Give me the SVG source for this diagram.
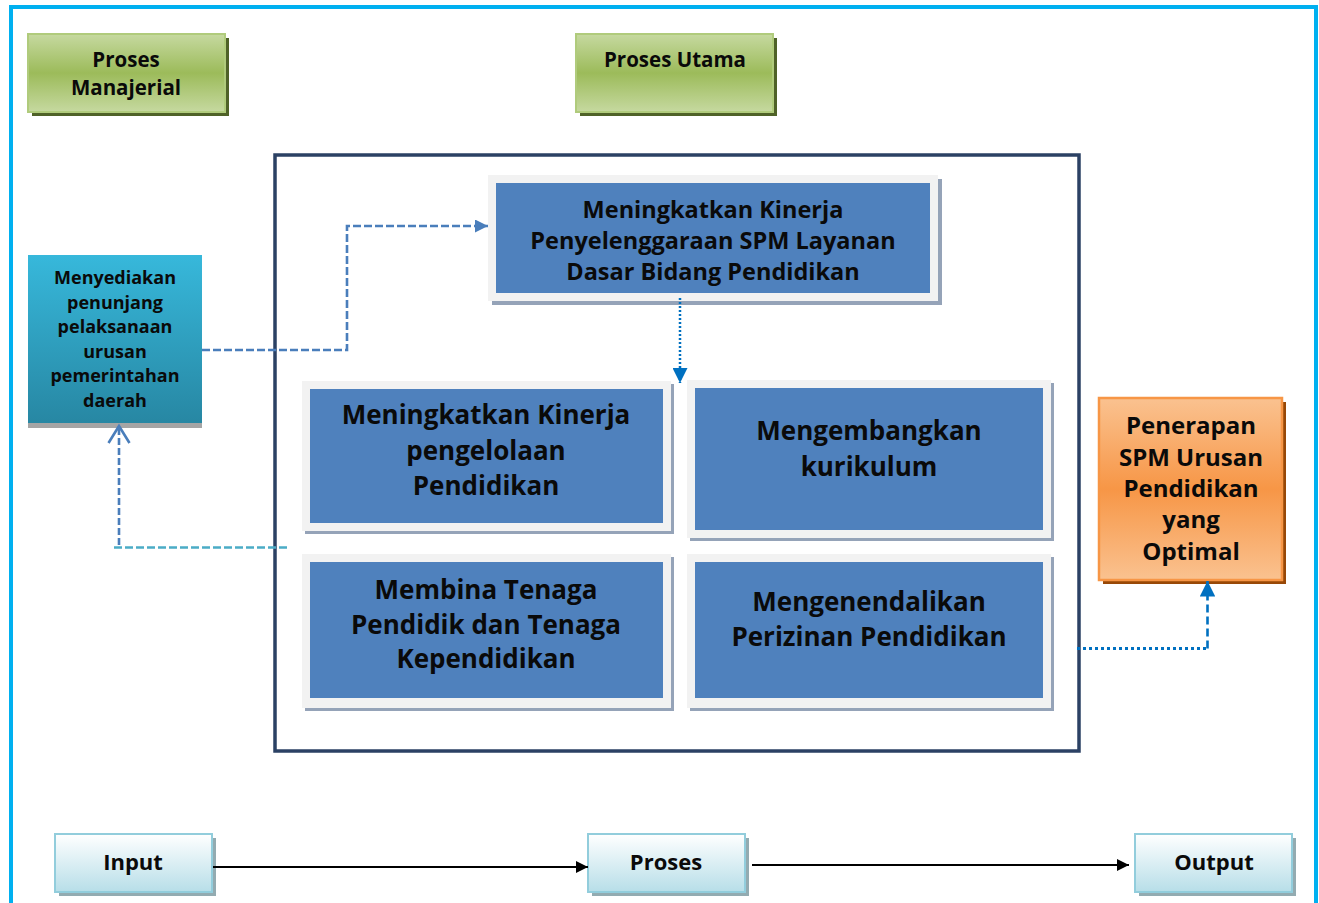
<svg xmlns="http://www.w3.org/2000/svg" width="1319" height="903" viewBox="0 0 1319 903">
<defs>
<style>
text{font-family:"Open Sans","DejaVu Sans",sans-serif;font-weight:700;fill:#0a0a0a;text-anchor:middle}
.g{font-size:20.5px}
.t{font-size:18px}
.tb{font-size:23.5px}
.bb{font-size:26px}
.o{font-size:24px}
.io{font-size:22px}
.frame{fill:#F2F2F2}
.inner{fill:#4F81BD}
.bsh{fill:#95A3B8}
</style>
<linearGradient id="gGreen" x1="0" y1="0" x2="0" y2="1">
<stop offset="0" stop-color="#C6D9A0"/><stop offset="0.5" stop-color="#9CBB5A"/><stop offset="1" stop-color="#C6D9A0"/>
</linearGradient>
<linearGradient id="gTeal" x1="0" y1="0" x2="0" y2="1">
<stop offset="0" stop-color="#37B8DB"/><stop offset="1" stop-color="#2787A3"/>
</linearGradient>
<linearGradient id="gOrange" x1="0" y1="0" x2="0" y2="1">
<stop offset="0" stop-color="#FAC290"/><stop offset="0.5" stop-color="#F79646"/><stop offset="1" stop-color="#FAC290"/>
</linearGradient>
<linearGradient id="gIO" x1="0" y1="0" x2="0" y2="1">
<stop offset="0" stop-color="#FFFFFF"/><stop offset="1" stop-color="#B7DEE8"/>
</linearGradient>
<marker id="aBlue" viewBox="0 0 10 10" refX="10" refY="5" markerWidth="5" markerHeight="5" orient="auto" markerUnits="strokeWidth">
<path d="M0,0 L10,5 L0,10 z" fill="#4A7EBB"/>
</marker>
<marker id="aDot" viewBox="0 0 10 10" refX="10" refY="5" markerWidth="6" markerHeight="6" orient="auto" markerUnits="strokeWidth">
<path d="M0,0 L10,5 L0,10 z" fill="#0070C0"/>
</marker>
<marker id="aBlack" viewBox="0 0 10 10" refX="10" refY="5" markerWidth="7" markerHeight="6" orient="auto" markerUnits="strokeWidth">
<path d="M0,0 L10,5 L0,10 z" fill="#000"/>
</marker>
</defs>
<rect width="1319" height="903" fill="#FFFFFF"/>
<rect x="11" y="7" width="1305" height="1000" fill="none" stroke="#00B0F0" stroke-width="4"/>
<rect id="main-frame" x="275" y="155" width="804" height="596" fill="none" stroke="#2B4164" stroke-width="3.5"/>

<g id="proses-manajerial">
<rect x="32" y="38" width="197" height="78" fill="#4F6228"/>
<rect x="28" y="34" width="197" height="78" fill="url(#gGreen)" stroke="#B0CB7C" stroke-width="2"/>
<text class="g" x="126" y="67">Proses</text>
<text class="g" x="126" y="95">Manajerial</text>
</g>
<g id="proses-utama">
<rect x="580" y="38" width="197" height="78" fill="#4F6228"/>
<rect x="576" y="34" width="197" height="78" fill="url(#gGreen)" stroke="#B0CB7C" stroke-width="2"/>
<text class="g" x="675" y="67">Proses Utama</text>
</g>

<g id="menyediakan">
<rect x="28" y="420" width="174" height="8" fill="#A5A5A5"/>
<rect x="28" y="255" width="174" height="168" fill="url(#gTeal)"/>
<text class="t" x="115" y="284">Menyediakan</text>
<text class="t" x="115" y="308.5">penunjang</text>
<text class="t" x="115" y="333">pelaksanaan</text>
<text class="t" x="115" y="357.5">urusan</text>
<text class="t" x="115" y="382">pemerintahan</text>
<text class="t" x="115" y="406.5">daerah</text>
</g>

<g id="kinerja-spm">
<rect class="bsh" x="492" y="179" width="450" height="126"/>
<rect class="frame" x="488" y="175" width="450" height="126"/>
<rect class="inner" x="496" y="183" width="434" height="110"/>
<text class="tb" x="713" y="218">Meningkatkan Kinerja</text>
<text class="tb" x="713" y="249">Penyelenggaraan SPM Layanan</text>
<text class="tb" x="713" y="280">Dasar Bidang Pendidikan</text>
</g>

<g id="kinerja-pengelolaan">
<rect class="bsh" x="305" y="384" width="369" height="150"/>
<rect class="frame" x="302" y="381" width="369" height="150"/>
<rect class="inner" x="310" y="389" width="353" height="134"/>
<text class="bb" x="486" y="424">Meningkatkan Kinerja</text>
<text class="bb" x="486" y="460">pengelolaan</text>
<text class="bb" x="486" y="495">Pendidikan</text>
</g>

<g id="kurikulum">
<rect class="bsh" x="690" y="383" width="364" height="158"/>
<rect class="frame" x="687" y="380" width="364" height="158"/>
<rect class="inner" x="695" y="388" width="348" height="142"/>
<text class="bb" x="869" y="440">Mengembangkan</text>
<text class="bb" x="869" y="476">kurikulum</text>
</g>

<g id="membina-tenaga">
<rect class="bsh" x="305" y="557" width="369" height="154"/>
<rect class="frame" x="302" y="554" width="369" height="154"/>
<rect class="inner" x="310" y="562" width="353" height="136"/>
<text class="bb" x="486" y="599">Membina Tenaga</text>
<text class="bb" x="486" y="634">Pendidik dan Tenaga</text>
<text class="bb" x="486" y="668">Kependidikan</text>
</g>

<g id="perizinan">
<rect class="bsh" x="690" y="557" width="364" height="154"/>
<rect class="frame" x="687" y="554" width="364" height="154"/>
<rect class="inner" x="695" y="562" width="348" height="136"/>
<text class="bb" x="869" y="611">Mengenendalikan</text>
<text class="bb" x="869" y="646">Perizinan Pendidikan</text>
</g>

<g id="penerapan-spm">
<rect x="1103" y="402" width="183" height="182" fill="#984807"/>
<rect x="1099" y="398" width="183" height="182" fill="url(#gOrange)" stroke="#F79646" stroke-width="2.5"/>
<text class="o" x="1191" y="434">Penerapan</text>
<text class="o" x="1191" y="466">SPM Urusan</text>
<text class="o" x="1191" y="497">Pendidikan</text>
<text class="o" x="1191" y="528">yang</text>
<text class="o" x="1191" y="560">Optimal</text>
</g>

<g id="input">
<rect x="59" y="838" width="157" height="58" fill="#93ABB1"/>
<rect x="55" y="834" width="157" height="58" fill="url(#gIO)" stroke="#92CDDC" stroke-width="2"/>
<text class="io" x="133" y="870">Input</text>
</g>
<g id="proses">
<rect x="592" y="838" width="157" height="58" fill="#93ABB1"/>
<rect x="588" y="834" width="157" height="58" fill="url(#gIO)" stroke="#92CDDC" stroke-width="2"/>
<text class="io" x="666" y="870">Proses</text>
</g>
<g id="output">
<rect x="1139" y="838" width="157" height="58" fill="#93ABB1"/>
<rect x="1135" y="834" width="157" height="58" fill="url(#gIO)" stroke="#92CDDC" stroke-width="2"/>
<text class="io" x="1214" y="870">Output</text>
</g>

<g id="connectors" fill="none">
<path d="M202,350 H347 V226 H488" stroke="#4A7EBB" stroke-width="2.6" stroke-dasharray="8 3" marker-end="url(#aBlue)"/>
<path d="M680,298 V383" stroke="#0070C0" stroke-width="2.5" stroke-dasharray="2 2" marker-end="url(#aDot)"/>
<path d="M287,547.5 H112" stroke="#4BACC6" stroke-width="2.6" stroke-dasharray="8 3"/>
<path d="M119,545 V428" stroke="#4A7EBB" stroke-width="2.6" stroke-dasharray="7 3"/>
<path d="M108.5,443 L119,426 L129.5,443" stroke="#4A7EBB" stroke-width="2.6"/>
<path d="M1077,648.5 H1207" stroke="#0070C0" stroke-width="3" stroke-dasharray="3 3"/>
<path d="M1207.5,648.5 V581" stroke="#0070C0" stroke-width="2.6" stroke-dasharray="8 4" marker-end="url(#aDot)"/>
<path d="M213,867 H588" stroke="#000" stroke-width="2" marker-end="url(#aBlack)"/>
<path d="M752,865 H1129" stroke="#000" stroke-width="2" marker-end="url(#aBlack)"/>
</g>
</svg>
